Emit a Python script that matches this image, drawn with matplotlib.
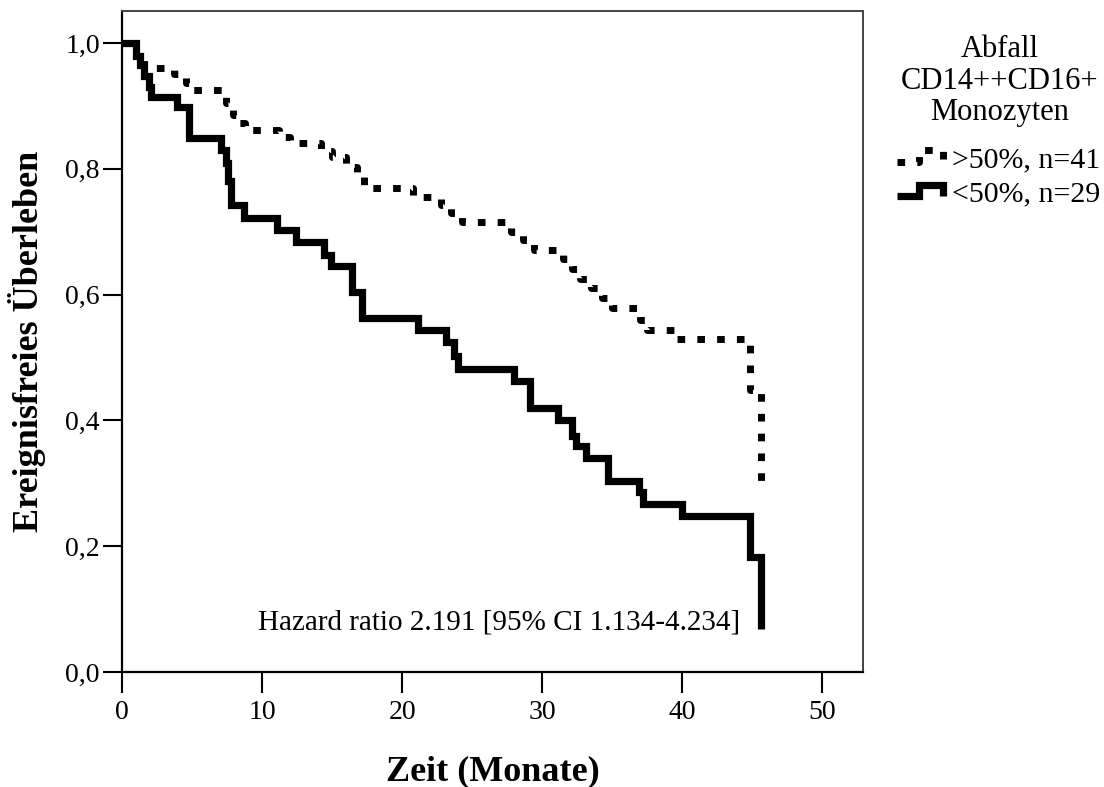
import numpy as np
import matplotlib
matplotlib.use("Agg")
import matplotlib.pyplot as plt
from matplotlib.lines import Line2D
from matplotlib.legend_handler import HandlerLine2D

plt.rcParams["font.family"] = ["Liberation Serif", "DejaVu Serif"]

# Kaplan-Meier steps (value after each time point)
low_time = [0, 1.0, 1.3, 1.6, 1.9, 2.1, 3.9, 4.8, 7.1, 7.4, 7.6, 7.8, 8.7, 11.1, 12.4,
            14.4, 14.9, 16.4, 17.1, 21.1, 23.1, 23.7, 24.0, 28.0, 29.1, 31.1, 32.1,
            32.4, 33.1, 34.7, 36.9, 37.2, 40.0, 44.8, 45.6]
low_surv = [1.0, 0.98, 0.965, 0.948, 0.93, 0.914, 0.898, 0.849, 0.83, 0.81, 0.78, 0.743,
            0.722, 0.703, 0.684, 0.663, 0.645, 0.605, 0.563, 0.544, 0.524, 0.502, 0.481,
            0.462, 0.42, 0.40, 0.375, 0.359, 0.341, 0.303, 0.286, 0.267, 0.248, 0.183, 0.068]

high_time = [0, 1.0, 1.6, 3.7, 4.6, 5.0, 7.4, 7.9, 8.2, 8.8, 11.2, 12.0, 14.2, 15.0,
             16.0, 16.8, 17.3, 20.8, 22.8, 23.5, 24.3, 27.8, 28.6, 29.4, 31.5, 32.1,
             32.7, 33.5, 34.3, 35.0, 37.0, 37.5, 39.6, 44.8, 45.6]
high_surv = [1.0, 0.976, 0.96, 0.951, 0.937, 0.925, 0.905, 0.885, 0.873, 0.862, 0.851,
             0.841, 0.829, 0.819, 0.803, 0.787, 0.77, 0.756, 0.743, 0.73, 0.716, 0.70,
             0.687, 0.671, 0.657, 0.64, 0.625, 0.611, 0.595, 0.579, 0.56, 0.544, 0.529,
             0.449, 0.287]

x_ticks = [0, 10, 20, 30, 40, 50]
y_ticks = [0.0, 0.2, 0.4, 0.6, 0.8, 1.0]
group_labels = [">50%, n=41", "<50%, n=29"]
legend_title = "Abfall\nCD14++CD16+\nMonozyten"
hr_text = "Hazard ratio 2.191 [95% CI 1.134-4.234]"


class StepHandler(HandlerLine2D):
    # small staircase as legend sample, like the SPSS output
    def create_artists(self, legend, orig_handle, xdescent, ydescent,
                       width, height, fontsize, trans):
        fx = np.array([0.0, 0.42, 0.42, 0.88, 0.88])
        fy = np.array([-0.25, -0.25, 0.3, 0.3, -0.25])
        xs = fx * width - xdescent
        ys = (0.5 + fy) * height - ydescent
        line = Line2D(xs, ys)
        self.update_prop(line, orig_handle, legend)
        line.set_transform(trans)
        return [line]


fig = plt.figure(figsize=(11.04, 7.87), dpi=100)
ax = fig.add_axes([122 / 1104, 1 - 672 / 787, 741 / 1104, 661 / 787])

h_high, = ax.step(high_time, high_surv, where="post", color="black", lw=5,
                  linestyle=(0, (1.1, 1.75)), dash_capstyle="butt")
h_low, = ax.step(low_time, low_surv, where="post", color="black", lw=5.2,
                 solid_joinstyle="miter", solid_capstyle="butt")

ax.set_xlim(0, 52.9)
ax.set_ylim(0, 1.051)
ax.set_xticks(x_ticks)
ax.set_xticklabels([str(v) for v in x_ticks])
ax.set_yticks(y_ticks)
ax.set_yticklabels([f"{v:.1f}".replace(".", ",") for v in y_ticks])
ax.tick_params(axis="x", direction="out", length=15, width=1.5, pad=5, labelsize=20)
ax.tick_params(axis="y", direction="out", length=14, width=1.5, pad=2, labelsize=20)

for side in ["left", "bottom"]:
    ax.spines[side].set_linewidth(1.6)
    ax.spines[side].set_color("black")
for side in ["top", "right"]:
    ax.spines[side].set_linewidth(1.4)
    ax.spines[side].set_color("#444444")

ax.set_xlabel("Zeit (Monate)", fontsize=26, fontweight="bold", labelpad=22)
ax.set_ylabel("Ereignisfreies Überleben", fontsize=26, fontweight="bold", labelpad=14)

ax.text(0.834, 0.064, hr_text, transform=ax.transAxes, ha="right", va="baseline",
        fontsize=21)

fig.text(1000 / 1104, 1 - 35 / 787, legend_title, ha="center", va="top",
         multialignment="center", fontsize=22, linespacing=1.12)
fig.legend([h_high, h_low], group_labels, loc="upper left",
           bbox_to_anchor=(897 / 1104, 1 - 146 / 787), frameon=False,
           fontsize=21.5, handlelength=1.75, handletextpad=0.1, borderpad=0,
           borderaxespad=0, labelspacing=0.25, handler_map={Line2D: StepHandler()})

fig.savefig("out.png", dpi=100)
